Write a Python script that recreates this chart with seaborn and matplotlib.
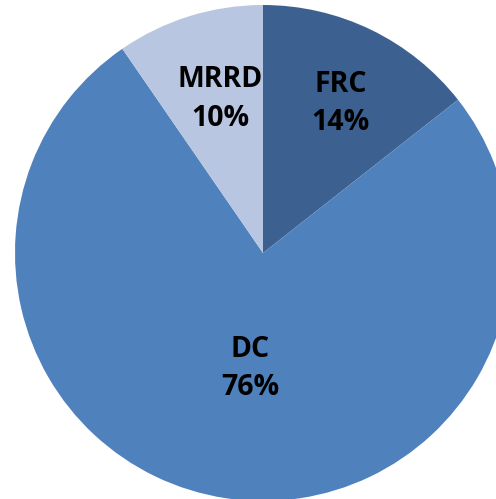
import numpy as np
import matplotlib
matplotlib.use("Agg")
import matplotlib.pyplot as plt
import seaborn as sns

# Share of each category
labels = ["FRC", "DC", "MRRD"]
shares = [14.4, 76.0, 9.6]
colors = ["#3C6191", "#4F81BD", "#B9C6E2"]
# how far from the centre each label sits (fraction of radius)
label_dist = [0.67, 0.47, 0.65]

sns.set_theme(style="white")
plt.rcParams['font.family'] = ['Open Sans', 'DejaVu Sans']

fig = plt.figure(figsize=(4.96, 4.99), dpi=100)
ax = fig.add_axes([0, 0, 1, 1])

wedges, _ = ax.pie(shares, colors=colors, startangle=90, counterclock=False,
                   radius=1, wedgeprops=dict(linewidth=0))

for w, lab, val, d in zip(wedges, labels, shares, label_dist):
    ang = np.deg2rad((w.theta1 + w.theta2) / 2)
    ax.text(d * np.cos(ang) + 0.02, d * np.sin(ang), f"{lab}\n{val:.0f}%",
            ha="center", va="center", fontsize=20.5, fontweight="bold",
            color="black", linespacing=1.42)

# centre of pie at pixel (263, 253), radius 248 px
r = 248
ax.set_xlim(-263 / r, (496 - 263) / r)
ax.set_ylim(-(499 - 253) / r, 253 / r)
ax.set_aspect("auto")
ax.axis("off")

fig.savefig("out.png", dpi=100)
